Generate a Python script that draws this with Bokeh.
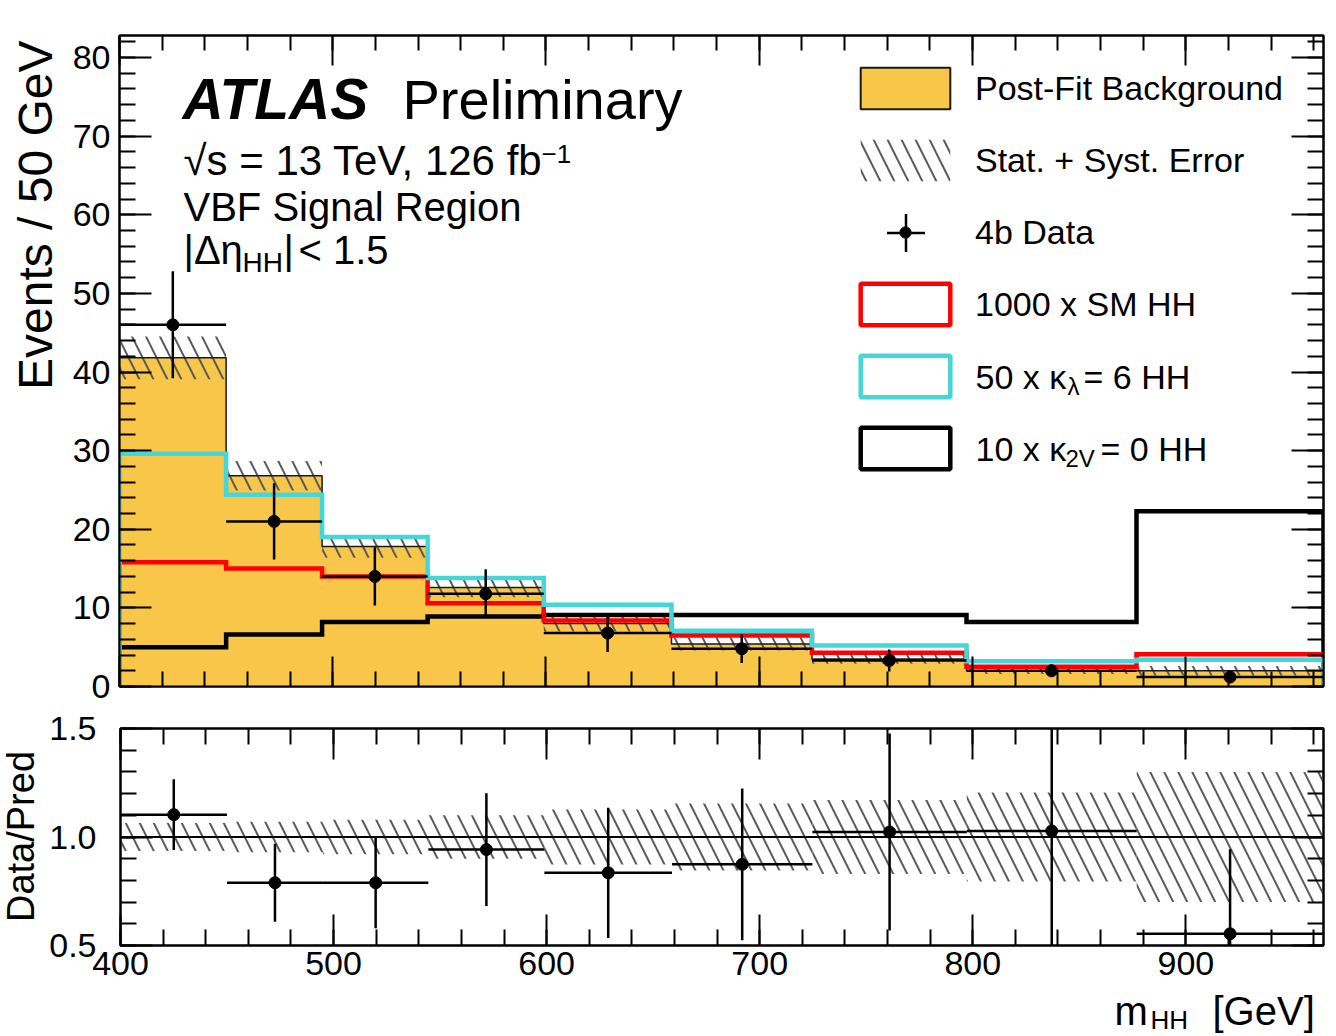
import math
from bokeh.plotting import figure
from bokeh.layouts import column, row
from bokeh.models import (Range1d, LinearAxis, FixedTicker, CustomJSTickFormatter,
                          NumeralTickFormatter, ColumnDataSource, Label, Legend,
                          LegendItem, Span)
from bokeh.embed import file_html
from bokeh.resources import INLINE

# ---------------- data ----------------
bin_edges = [400.0, 450.0, 495.0, 544.5, 598.95, 658.85, 724.73, 797.2, 876.92, 964.61]
background = [41.8, 26.8, 17.8, 12.6, 8.0, 5.4, 3.5, 2.0, 2.0]
bkg_rel_unc = [0.065, 0.07, 0.08, 0.10, 0.127, 0.154, 0.17, 0.205, 0.30]
data_4b = [46.0, 21.0, 14.0, 11.8, 6.8, 4.8, 3.3, 2.0, 1.2]
data_err = [6.8, 4.85, 3.7, 3.1, 2.4, 1.8, 1.4, 0.8, 0.6]
sm_hh_x1000 = [15.8, 15.0, 14.0, 10.6, 8.4, 6.5, 4.3, 2.5, 4.1]
kl6_hh_x50 = [29.6, 24.4, 19.0, 13.8, 10.4, 7.1, 5.2, 3.2, 3.4]
k2v0_hh_x10 = [5.0, 6.6, 8.2, 8.9, 9.1, 9.1, 9.1, 8.2, 22.3]
ratio = [1.103, 0.789, 0.789, 0.942, 0.835, 0.874, 1.023, 1.028, 0.554]
ratio_err = [0.163, 0.18, 0.21, 0.26, 0.30, 0.35, 0.454, 0.72, 0.39]

main_x_ticks = [400, 500, 600, 700, 800, 900]
main_x_minor = list(range(400, 965, 20))
main_y_ticks = [0, 10, 20, 30, 40, 50, 60, 70, 80]
main_y_minor = list(range(0, 83, 2))
ratio_y_ticks = [0.5, 1.0, 1.5]
ratio_y_minor = [round(0.5 + 0.1 * i, 2) for i in range(11)]

# ---------------- styles / layout ----------------
FONT = "Liberation Sans"
YELLOW = "#f8c648"
CYAN = "#44d6d8"
RED = "#ff0000"
HATCH_COLOR = "#5a5a5a"
W = 1336
FL = 119                      # page x of both frames' left edge
FR = 13                       # right border
S1_W, S2_W = 68, 46           # left strips holding the rotated axis titles
MAIN_TOP, MAIN_BOTTOM = 35, 686
ROW1_H = 707
RATIO_TOP, RATIO_BOTTOM = 728, 945
ROW2_END = 990
P3_H = 1036 - ROW2_END
NAN = float("nan")
MID = 0.41                    # baseline offset of a "middle"-anchored text, in em

lo = bin_edges[:-1]
hi = bin_edges[1:]
centers = [(a + b) / 2 for a, b in zip(lo, hi)]


def hist_outline(values):
    xs, ys = [bin_edges[0]], [0.0]
    for a, b, v in zip(lo, hi, values):
        xs += [a, b]
        ys += [v, v]
    xs.append(bin_edges[-1])
    ys.append(0.0)
    return xs, ys


main_src = ColumnDataSource(dict(
    left=lo, right=hi, bkg=background,
    band_lo=[b * (1 - r) for b, r in zip(background, bkg_rel_unc)],
    band_hi=[b * (1 + r) for b, r in zip(background, bkg_rel_unc)],
    x=centers, data=data_4b,
    data_lo=[d - e for d, e in zip(data_4b, data_err)],
    data_hi=[d + e for d, e in zip(data_4b, data_err)],
))
ratio_src = ColumnDataSource(dict(
    left=lo, right=hi,
    band_lo=[1 - r for r in bkg_rel_unc], band_hi=[1 + r for r in bkg_rel_unc],
    x=centers, r=ratio,
    r_lo=[r - e for r, e in zip(ratio, ratio_err)],
    r_hi=[r + e for r, e in zip(ratio, ratio_err)],
))


def make_axis(ticks, minor, tick_len, minor_len, labels, standoff=8, formatter=None, size="34px"):
    ax = LinearAxis(ticker=FixedTicker(ticks=ticks, minor_ticks=minor))
    ax.major_tick_in = tick_len
    ax.major_tick_out = 0
    ax.minor_tick_in = minor_len
    ax.minor_tick_out = 0
    ax.axis_line_color = "black"
    ax.axis_line_width = 2
    ax.major_tick_line_color = "black"
    ax.major_tick_line_width = 2
    ax.minor_tick_line_color = "black"
    ax.minor_tick_line_width = 2
    if labels:
        ax.major_label_text_font = FONT
        ax.major_label_text_font_size = size
        ax.major_label_text_color = "black"
        ax.major_label_standoff = standoff
        if formatter is not None:
            ax.formatter = formatter
    else:
        ax.formatter = CustomJSTickFormatter(code="return ''")
        ax.major_label_standoff = 0
        ax.major_label_text_font_size = "0px"
    return ax


def put_text(p, ox, fb, X, Y, text, size, style="normal", align="left", rotated=False):
    """Text whose baseline starts at page (X, Y); (ox, fb) = page x of frame left, page y of frame bottom.
    For rotated (bottom-to-top) text, X is the baseline's page x."""
    if rotated:
        ax, ay, angle = X - MID * size, Y, math.pi / 2
    else:
        ax, ay, angle = X, Y - MID * size, 0.0
    p.add_layout(Label(x=ax - ox, y=fb - ay, x_units="screen", y_units="screen",
                       text=text, text_font=FONT, text_font_size=f"{size}px",
                       text_font_style=style, text_color="black",
                       text_baseline="middle", text_align=align, angle=angle))


def strip(w, h):
    s = figure(width=w, height=h, x_range=Range1d(0, 1), y_range=Range1d(0, 1),
               x_axis_location=None, y_axis_location=None,
               toolbar_location=None, output_backend="svg",
               min_border_left=0, min_border_right=0, min_border_top=0, min_border_bottom=0,
               outline_line_color=None, background_fill_color="white",
               border_fill_color="white")
    s.grid.visible = False
    return s


# ---------------- main panel ----------------
p1 = figure(width=W - S1_W, height=ROW1_H,
            x_range=Range1d(bin_edges[0], bin_edges[-1]), y_range=Range1d(0, 82.8),
            x_axis_location=None, y_axis_location=None,
            toolbar_location=None, output_backend="svg",
            min_border_left=FL - S1_W, min_border_right=FR,
            min_border_top=MAIN_TOP, min_border_bottom=ROW1_H - MAIN_BOTTOM,
            background_fill_color="white", border_fill_color="white",
            outline_line_color="black", outline_line_width=2)
p1.grid.visible = False

p1.add_layout(make_axis(main_y_ticks, main_y_minor, 32, 16, True, standoff=9), "left")
p1.add_layout(make_axis(main_y_ticks, main_y_minor, 32, 16, False), "right")
p1.add_layout(make_axis(main_x_ticks, main_x_minor, 30, 15, False), "below")
p1.add_layout(make_axis(main_x_ticks, main_x_minor, 30, 15, False), "above")

bx, by = hist_outline(background)
p1.patch(bx, by, fill_color=YELLOW, line_color=None)
hatch_r = p1.quad(left="left", right="right", bottom="band_lo", top="band_hi",
                  source=main_src, fill_color=None, line_color=None,
                  hatch_pattern="\\", hatch_color=HATCH_COLOR, hatch_weight=2,
                  hatch_scale=28)
p1.line(bx, by, line_color="#1a1a1a", line_width=1.5)

for vals, col in [(k2v0_hh_x10, "black"), (sm_hh_x1000, RED), (kl6_hh_x50, CYAN)]:
    xs, ys = hist_outline(vals)
    p1.line(xs, ys, line_color=col, line_width=4.5, line_join="miter")

p1.segment(x0="left", x1="right", y0="data", y1="data", source=main_src,
           line_color="black", line_width=2.5)
p1.segment(x0="x", x1="x", y0="data_lo", y1="data_hi", source=main_src,
           line_color="black", line_width=2.5)
p1.scatter(x="x", y="data", source=main_src, marker="circle", size=12,
           fill_color="black", line_color="black")


# legend proxies (NaN data: nothing drawn in the plot, only legend swatches)
def proxy_quad(**kw):
    src = ColumnDataSource(dict(left=[NAN], right=[NAN], bottom=[NAN], top=[NAN]))
    return p1.quad(left="left", right="right", bottom="bottom", top="top", source=src, **kw)


def proxy_marker(**kw):
    return p1.scatter(x="x", y="y", source=ColumnDataSource(dict(x=[NAN], y=[NAN])), **kw)


leg_bkg = proxy_quad(fill_color=YELLOW, line_color="#1a1a1a", line_width=2)
leg_red = proxy_quad(fill_color=None, line_color=RED, line_width=4.5)
leg_cyan = proxy_quad(fill_color=None, line_color=CYAN, line_width=4.5)
leg_black = proxy_quad(fill_color=None, line_color="black", line_width=4.5)
leg_blank = proxy_quad(fill_color=None, line_color=None)
leg_cross = proxy_marker(marker="cross", size=40, line_color="black", line_width=2.5)
leg_dot = proxy_marker(marker="circle", size=11, fill_color="black", line_color="black")

LEG_COMMON = dict(orientation="vertical", padding=0, margin=0, border_line_color=None,
                  background_fill_alpha=0, label_text_font=FONT,
                  label_text_font_size="34px", label_text_color="black")

legend = Legend(items=[
    LegendItem(label="Post-Fit Background", renderers=[leg_bkg]),
    LegendItem(label="Stat. + Syst. Error", renderers=[hatch_r]),
    LegendItem(label="4b Data", renderers=[leg_blank]),
    LegendItem(label="1000 x SM HH", renderers=[leg_red]),
    LegendItem(label=" ", renderers=[leg_cyan]),
    LegendItem(label=" ", renderers=[leg_black]),
], location=(730, 212), glyph_width=112, glyph_height=52, label_height=52,
    label_standoff=14, spacing=20, **LEG_COMMON)
p1.add_layout(legend)

# data-marker legend symbol: big cross + small dot, centred on row 3 (page 905, 232)
CROSS_BOX, DOT_BOX = 95, 28
p1.add_layout(Legend(items=[LegendItem(label=" ", renderers=[leg_cross])],
                     location=(905 - CROSS_BOX / 2 - FL, MAIN_BOTTOM - 232 - CROSS_BOX / 2),
                     glyph_width=CROSS_BOX, glyph_height=CROSS_BOX, label_height=CROSS_BOX,
                     label_standoff=0, **LEG_COMMON))
p1.add_layout(Legend(items=[LegendItem(label=" ", renderers=[leg_dot])],
                     location=(905 - DOT_BOX / 2 - FL, MAIN_BOTTOM - 232 - DOT_BOX / 2),
                     glyph_width=DOT_BOX, glyph_height=DOT_BOX, label_height=DOT_BOX,
                     label_standoff=0, **LEG_COMMON))

# legend rows that need subscripts (baselines)
b5, b6 = 390, 462
put_text(p1, FL, MAIN_BOTTOM, 975, b5, "50 x κ", 34)
put_text(p1, FL, MAIN_BOTTOM, 1067, b5 + 6, "λ", 24)
put_text(p1, FL, MAIN_BOTTOM, 1083, b5, "= 6 HH", 34)
put_text(p1, FL, MAIN_BOTTOM, 975, b6, "10 x κ", 34)
put_text(p1, FL, MAIN_BOTTOM, 1065, b6 + 6, "2V", 24)
put_text(p1, FL, MAIN_BOTTOM, 1100, b6, "= 0 HH", 34)

# ATLAS labels (baselines)
put_text(p1, FL, MAIN_BOTTOM, 182, 122, "ATLAS", 57, style="bold italic")
put_text(p1, FL, MAIN_BOTTOM, 402, 122, "Preliminary", 56)
put_text(p1, FL, MAIN_BOTTOM, 183, 177, "√s = 13 TeV, 126 fb", 42)
put_text(p1, FL, MAIN_BOTTOM, 541, 164, "−1", 26)
put_text(p1, FL, MAIN_BOTTOM, 183, 223, "VBF Signal Region", 40)
put_text(p1, FL, MAIN_BOTTOM, 183, 266, "|Δη", 40)
put_text(p1, FL, MAIN_BOTTOM, 242, 273, "HH", 28)
put_text(p1, FL, MAIN_BOTTOM, 283, 266, "|", 40)
put_text(p1, FL, MAIN_BOTTOM, 298, 266, "< 1.5", 40)

# left title strip: its frame is aligned with p1's frame (page y 35..686)
s1 = strip(S1_W, ROW1_H)
put_text(s1, 0, MAIN_BOTTOM, 55, 40, "Events / 50 GeV", 48, align="right", rotated=True)

# ---------------- ratio panel ----------------
P2_H = ROW2_END - ROW1_H
p2 = figure(width=W - S2_W, height=P2_H, x_range=p1.x_range, y_range=Range1d(0.5, 1.5),
            x_axis_location=None, y_axis_location=None,
            toolbar_location=None, output_backend="svg",
            min_border_left=FL - S2_W, min_border_right=FR,
            min_border_top=RATIO_TOP - ROW1_H, min_border_bottom=ROW2_END - RATIO_BOTTOM,
            background_fill_color="white", border_fill_color="white",
            outline_line_color="black", outline_line_width=2)
p2.grid.visible = False

p2.add_layout(make_axis(ratio_y_ticks, ratio_y_minor, 32, 16, True, standoff=24,
                        formatter=NumeralTickFormatter(format="0.0")), "left")
p2.add_layout(make_axis(ratio_y_ticks, ratio_y_minor, 32, 16, False), "right")
p2.add_layout(make_axis(main_x_ticks, main_x_minor, 31, 16, True, standoff=6), "below")
p2.add_layout(make_axis(main_x_ticks, main_x_minor, 31, 16, False), "above")

p2.quad(left="left", right="right", bottom="band_lo", top="band_hi", source=ratio_src,
        fill_color=None, line_color=None, hatch_pattern="\\", hatch_color=HATCH_COLOR,
        hatch_weight=2, hatch_scale=28)
p2.add_layout(Span(location=1.0, dimension="width", line_color="black", line_width=2))
p2.segment(x0="left", x1="right", y0="r", y1="r", source=ratio_src,
           line_color="black", line_width=2.5)
p2.segment(x0="x", x1="x", y0="r_lo", y1="r_hi", source=ratio_src,
           line_color="black", line_width=2.5)
p2.scatter(x="x", y="r", source=ratio_src, marker="circle", size=12,
           fill_color="black", line_color="black")

# ratio title strip: its frame is aligned with p2's frame (page y 728..945)
s2 = strip(S2_W, P2_H)
put_text(s2, 0, RATIO_BOTTOM, 36, 836, "Data/Pred", 38, align="center", rotated=True)

# ---------------- x-axis title strip ----------------
p3 = strip(W, P3_H)
put_text(p3, 0, 1036, 1114, 1027, "m", 40)
put_text(p3, 0, 1036, 1150, 1030, "HH", 26)
put_text(p3, 0, 1036, 1212, 1027, "[GeV]", 40)

layout = column(row(s1, p1), row(s2, p2), p3)
open("out.html", "w").write(file_html(layout, INLINE))
